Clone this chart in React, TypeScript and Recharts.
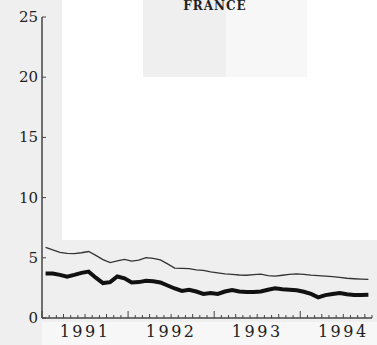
import { LineChart, Line, XAxis, YAxis } from "recharts";

// Month index of each point (Jan 1991 = 0)
const months = [
  0, 1, 2, 3, 4, 5, 6, 7, 8, 9, 10, 11, 12, 13, 14, 15, 16, 17, 18, 19, 20, 21,
  22, 23, 24, 25, 26, 27, 28, 29, 30, 31, 32, 33, 34, 35, 36, 37, 38, 39, 40,
  41, 42, 43, 44, 45,
];

// Upper (thin) series
const upper = [
  5.87, 5.65, 5.45, 5.36, 5.35, 5.42, 5.52, 5.2, 4.85, 4.6, 4.75, 4.87, 4.72,
  4.8, 5.02, 4.95, 4.82, 4.5, 4.15, 4.13, 4.1, 4.0, 3.95, 3.83, 3.75, 3.67,
  3.62, 3.57, 3.55, 3.6, 3.65, 3.52, 3.47, 3.55, 3.62, 3.66, 3.62, 3.56, 3.52,
  3.48, 3.43, 3.37, 3.3, 3.26, 3.23, 3.21,
];

// Lower (thick) series
const lower = [
  3.7, 3.7, 3.58, 3.43, 3.58, 3.75, 3.85, 3.35, 2.9, 2.98, 3.45, 3.3, 2.95,
  2.98, 3.1, 3.05, 2.95, 2.7, 2.45, 2.25, 2.35, 2.2, 2.0, 2.08, 2.0, 2.2, 2.32,
  2.2, 2.15, 2.16, 2.2, 2.35, 2.46, 2.38, 2.35, 2.3, 2.18, 2.0, 1.72, 1.9, 2.0,
  2.07, 1.98, 1.91, 1.92, 1.94,
];

const years = ["1991", "1992", "1993", "1994"];
const yTicks = [0, 5, 10, 15, 20, 25];
const monthTicks = Array.from({ length: 47 }, (_, i) => i);

const data = months.map((m, i) => ({ x: m + 0.5, upper: upper[i], lower: lower[i] }));

const FONT = "'DejaVu Serif', 'Liberation Serif', serif";

// x axis: small upward ticks each month, taller at quarters and years
const XTick = (props: any) => {
  const { x, y, payload } = props;
  const v = payload.value as number;
  const h = v % 12 === 0 ? 7 : v % 3 === 0 ? 4 : 3;
  const yearIdx = (v - 6) / 12;
  const label = v % 12 === 6 ? years[yearIdx] : null;
  return (
    <g>
      <line x1={x} y1={y} x2={x} y2={y - h} stroke="#444" strokeWidth={1} />
      {label && (
        <text
          x={x}
          y={y + 19}
          textAnchor="middle"
          fontFamily={FONT}
          fontSize={16}
          letterSpacing={2.5}
          fill="#222"
        >
          {label}
        </text>
      )}
    </g>
  );
};

// y axis: ticks point inward, labels on the left
const YTick = (props: any) => {
  const { x, y, payload } = props;
  return (
    <g>
      <line x1={x + 4} y1={y} x2={x + 8} y2={y} stroke="#444" strokeWidth={1} />
      <text
        x={x}
        y={y + 5}
        textAnchor="end"
        fontFamily={FONT}
        fontSize={15}
        fill="#222"
      >
        {payload.value}
      </text>
    </g>
  );
};

export default function App() {
  return (
    <div
      style={{
        position: "absolute",
        left: 0,
        top: 0,
        width: 377,
        height: 345,
        background: "#efefef",
        overflow: "hidden",
      }}
    >
      {/* scanned page background blocks */}
      <div style={{ position: "absolute", left: 62, top: 0, width: 315, height: 240, background: "#fff" }} />
      <div style={{ position: "absolute", left: 143, top: 0, width: 83, height: 77, background: "#efefef" }} />
      <div style={{ position: "absolute", left: 226, top: 0, width: 81, height: 77, background: "#f7f7f7" }} />
      <div style={{ position: "absolute", left: 42, top: 322, width: 335, height: 23, background: "#f7f7f7" }} />
      <div
        style={{
          position: "absolute",
          left: 0,
          top: 0,
          width: 430,
          textAlign: "center",
          fontFamily: FONT,
          fontWeight: "bold",
          fontSize: 12,
          color: "#222",
          lineHeight: "12px",
          letterSpacing: 1,
        }}
      >
        FRANCE
      </div>
      <LineChart
        width={377}
        height={345}
        data={data}
        margin={{ top: 17, right: 5, bottom: 0, left: 0 }}
        style={{ position: "absolute", left: 0, top: 0 }}
      >
        <XAxis
          dataKey="x"
          type="number"
          domain={[0, 46]}
          ticks={monthTicks}
          interval={0}
          height={27}
          tickSize={0}
          tickMargin={0}
          tick={<XTick />}
          axisLine={{ stroke: "#444", strokeWidth: 1.5 }}
        />
        <YAxis
          type="number"
          domain={[0, 25]}
          ticks={yTicks}
          width={42}
          tickSize={0}
          tickMargin={4}
          tick={<YTick />}
          axisLine={{ stroke: "#444", strokeWidth: 1.5 }}
        />
        <Line
          type="linear"
          dataKey="upper"
          stroke="#333"
          strokeWidth={1.3}
          dot={false}
          isAnimationActive={false}
        />
        <Line
          type="linear"
          dataKey="lower"
          stroke="#111"
          strokeWidth={4}
          dot={false}
          isAnimationActive={false}
        />
      </LineChart>
    </div>
  );
}
